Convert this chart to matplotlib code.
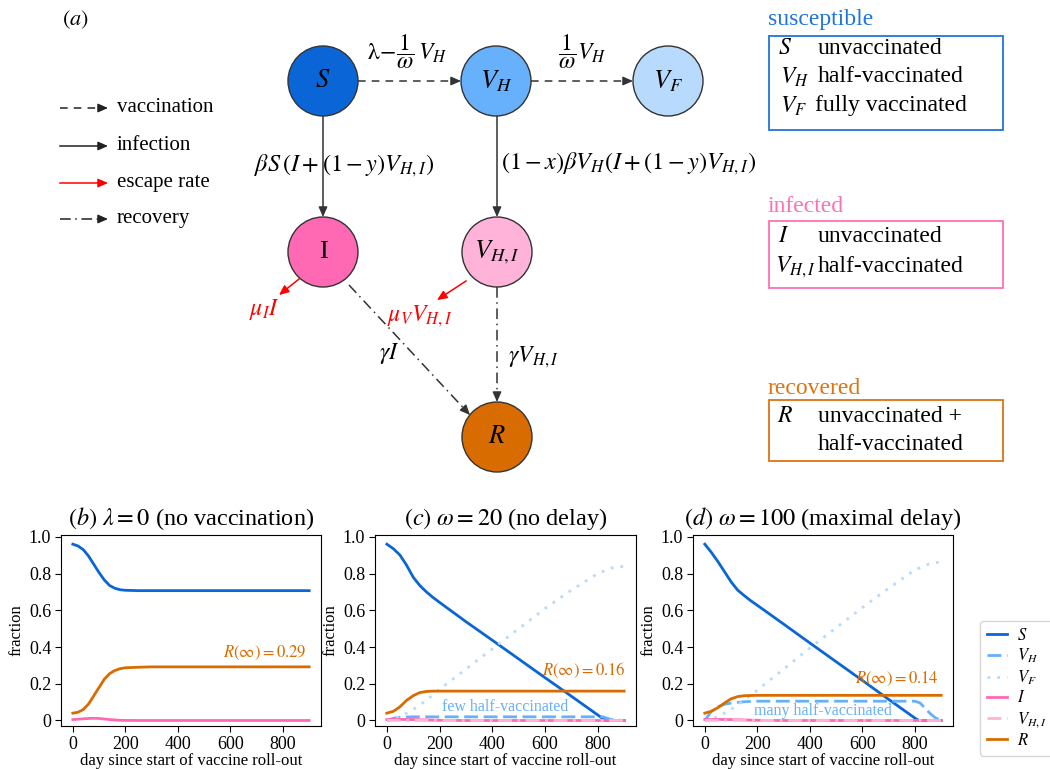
import numpy as np
import matplotlib
matplotlib.use("Agg")
import matplotlib.pyplot as plt
from matplotlib.patches import Circle, Rectangle

plt.rcParams['font.family'] = 'serif'
plt.rcParams['font.serif'] = ['Liberation Serif', 'DejaVu Serif']
plt.rcParams['mathtext.fontset'] = 'stix'

# colours of the compartments
c_S = '#0a66d6'
c_VH = '#66b0fc'
c_VF = '#b7dafd'
c_I = '#ff69b4'
c_VHI = '#ffb3d9'
c_R = '#d96c00'

# ---- panel (b): lambda = 0
days_b = [0, 20, 40, 60, 80, 100, 120, 140, 160, 180, 200, 250, 300, 900]
S_b = [0.96, 0.95, 0.93, 0.895, 0.85, 0.805, 0.765, 0.735, 0.72, 0.712, 0.709, 0.707, 0.707, 0.707]
R_b = [0.04, 0.045, 0.06, 0.09, 0.135, 0.18, 0.225, 0.255, 0.272, 0.282, 0.287, 0.29, 0.292, 0.292]
I_b = [0.005, 0.007, 0.009, 0.011, 0.012, 0.011, 0.008, 0.005, 0.003, 0.001, 0.0005, 0, 0, 0]

# ---- panel (c): omega = 20
days_c_S = [0, 25, 50, 75, 100, 125, 150, 175, 200, 300, 400, 500, 600, 700, 800, 830, 900]
S_c = [0.96, 0.935, 0.90, 0.845, 0.78, 0.735, 0.70, 0.67, 0.643, 0.538, 0.437, 0.335, 0.233, 0.132, 0.03, 0.0, 0.0]
days_c_VH = [0, 25, 50, 100, 200, 400, 600, 820, 850, 900]
VH_c = [0, 0.012, 0.018, 0.02, 0.02, 0.02, 0.02, 0.02, 0.005, 0]
days_c_VF = [0, 50, 100, 150, 200, 300, 400, 500, 600, 700, 800, 850, 900]
VF_c = [0, 0.02, 0.06, 0.11, 0.17, 0.28, 0.39, 0.50, 0.61, 0.71, 0.80, 0.83, 0.84]
days_c_I = [0, 50, 100, 150, 200, 300, 900]
I_c = [0.005, 0.006, 0.005, 0.003, 0.001, 0, 0]
days_c_VHI = [0, 50, 100, 150, 200, 900]
VHI_c = [0, 0.001, 0.001, 0.0005, 0, 0]
days_c_R = [0, 25, 50, 75, 100, 125, 150, 175, 900]
R_c = [0.04, 0.05, 0.075, 0.11, 0.135, 0.152, 0.158, 0.16, 0.16]

# ---- panel (d): omega = 100
days_d_S = [0, 25, 50, 75, 100, 125, 150, 175, 200, 300, 400, 500, 600, 700, 800, 815, 900]
S_d = [0.96, 0.915, 0.865, 0.81, 0.755, 0.71, 0.68, 0.652, 0.627, 0.525, 0.422, 0.32, 0.218, 0.115, 0.013, 0.0, 0.0]
days_d_VH = [0, 25, 50, 75, 100, 150, 200, 400, 600, 800, 820, 840, 860, 880, 900]
VH_d = [0, 0.05, 0.075, 0.088, 0.095, 0.102, 0.105, 0.105, 0.105, 0.105, 0.095, 0.065, 0.035, 0.012, 0.003]
days_d_VF = [0, 50, 100, 150, 200, 300, 400, 500, 600, 700, 800, 850, 900]
VF_d = [0, 0.02, 0.06, 0.11, 0.165, 0.28, 0.395, 0.505, 0.615, 0.72, 0.82, 0.85, 0.865]
days_d_I = [0, 50, 100, 150, 200, 300, 900]
I_d = [0.005, 0.006, 0.005, 0.003, 0.001, 0, 0]
days_d_VHI = [0, 50, 100, 150, 200, 900]
VHI_d = [0, 0.001, 0.002, 0.001, 0.0005, 0]
days_d_R = [0, 25, 50, 75, 100, 125, 150, 200, 900]
R_d = [0.04, 0.05, 0.07, 0.095, 0.118, 0.13, 0.135, 0.137, 0.137]

R_inf = {'b': 0.29, 'c': 0.16, 'd': 0.14}
xticks = [0, 200, 400, 600, 800]
yticks = [0, 0.2, 0.4, 0.6, 0.8, 1.0]
ytick_labels = ['0', '0.2', '0.4', '0.6', '0.8', '1.0']

fig = plt.figure(figsize=(10.5, 7.69), dpi=100)

# ================= (a) diagram, drawn in pixel coordinates
ax = fig.add_axes([0, 0, 1, 1])
ax.set_xlim(0, 1050)
ax.set_ylim(769, 0)
ax.axis('off')

nodes = {
    'S': ((323, 81), c_S, r'$S$'),
    'VH': ((496, 81), c_VH, r'$V_H$'),
    'VF': ((668, 81), c_VF, r'$V_F$'),
    'I': ((323, 252), c_I, 'I'),
    'VHI': ((497, 252), c_VHI, r'$V_{H,I}$'),
    'R': ((497, 437), c_R, r'$R$'),
}
rad = 35
for (xy, col, lab) in nodes.values():
    ax.add_patch(Circle(xy, rad, facecolor=col, edgecolor='#333333', lw=1, zorder=3))
    ax.text(xy[0], xy[1], lab, ha='center', va='center', fontsize=19, zorder=4)


def arrow(p0, p1, ls='-', color='#333333'):
    p0 = np.array(p0, float)
    p1 = np.array(p1, float)
    d = (p1 - p0) / np.hypot(*(p1 - p0))
    base = p1 - 8 * d
    ax.plot([p0[0], base[0]], [p0[1], base[1]], ls=ls, color=color, lw=1.1, zorder=2)
    ax.annotate('', xy=p1, xytext=base,
                arrowprops=dict(arrowstyle='-|>,head_length=0.5,head_width=0.22',
                                color=color, lw=1, shrinkA=0, shrinkB=0,
                                mutation_scale=12), zorder=2)


dash = (0, (5, 4))
dashdot = (0, (7, 3, 1, 3))

arrow((358, 81), (461, 81), ls=dash)
arrow((531, 81), (633, 81), ls=dash)
arrow((323, 116), (323, 217))
arrow((497, 116), (497, 217))
arrow((299, 279), (279, 295), color='red')
arrow((466, 281), (437, 300), color='red')
arrow((349, 285), (470, 415), ls=dashdot)
arrow((497, 287), (497, 402), ls=dashdot)

ax.text(407, 52, r'$\mathrm{\lambda}\!-\!\dfrac{1}{\omega}\,V_H$', ha='center', va='center', fontsize=17)
ax.text(582, 52, r'$\dfrac{1}{\omega}V_H$', ha='center', va='center', fontsize=17)
ax.text(254, 166, r'$\beta S\,(I + (1-y)V_{H,I})$', ha='left', va='center', fontsize=17.5)
ax.text(501, 164, r'$(1-x)\beta V_H(I + (1-y)V_{H,I})$', ha='left', va='center', fontsize=17.5)
ax.text(249, 310, r'$\mu_I I$', ha='left', va='center', fontsize=17, color='red')
ax.text(387, 316, r'$\mu_V V_{H,I}$', ha='left', va='center', fontsize=17, color='red')
ax.text(379, 354, r'$\gamma I$', ha='left', va='center', fontsize=17)
ax.text(508, 357, r'$\gamma V_{H,I}$', ha='left', va='center', fontsize=17)

ax.text(62, 20, r'$(a)$', ha='left', va='center', fontsize=16)

# arrow legend on the left
leg_items = [('vaccination', dash, '#222222', 108),
             ('infection', '-', '#222222', 146),
             ('escape rate', '-', 'red', 183),
             ('recovery', dashdot, '#222222', 219)]
for lab, ls, col, yy in leg_items:
    arrow((60, yy), (108, yy), ls=ls, color=col)
    ax.text(117, yy, lab, ha='left', va='center', fontsize=15)

# compartment boxes on the right
c_box_S = '#1f75d9'
c_box_I = '#ff6fb5'
c_box_R = '#dd7412'
ax.text(768, 20, 'susceptible', color=c_box_S, fontsize=17, ha='left', va='center')
ax.add_patch(Rectangle((769, 36), 234, 94, fill=False, edgecolor=c_box_S, lw=1.3))
ax.text(778, 48, r'$S$', fontsize=17, va='center')
ax.text(818, 48, 'unvaccinated', fontsize=17, va='center')
ax.text(780, 77, r'$V_H$', fontsize=17, va='center')
ax.text(818, 77, 'half-vaccinated', fontsize=17, va='center')
ax.text(780, 106, r'$V_F$', fontsize=17, va='center')
ax.text(815, 106, 'fully vaccinated', fontsize=17, va='center')

ax.text(768, 206, 'infected', color=c_box_I, fontsize=17, ha='left', va='center')
ax.add_patch(Rectangle((769, 221), 234, 67, fill=False, edgecolor=c_box_I, lw=1.3))
ax.text(778, 237, r'$I$', fontsize=17, va='center')
ax.text(818, 237, 'unvaccinated', fontsize=17, va='center')
ax.text(775, 267, r'$V_{H,I}$', fontsize=17, va='center')
ax.text(818, 267, 'half-vaccinated', fontsize=17, va='center')

ax.text(768, 388, 'recovered', color=c_box_R, fontsize=17, ha='left', va='center')
ax.add_patch(Rectangle((769, 400), 234, 61, fill=False, edgecolor=c_box_R, lw=1.3))
ax.text(777, 416, r'$R$', fontsize=17, va='center')
ax.text(818, 416, 'unvaccinated +', fontsize=17, va='center')
ax.text(818, 444, 'half-vaccinated', fontsize=17, va='center')

# ================= (b)-(d) time courses
W, H = 1050, 769
def panel(x0, x1):
    return fig.add_axes([x0 / W, 1 - 726 / H, (x1 - x0) / W, (726 - 535) / H])

axb = panel(61, 321)
axc = panel(375, 636)
axd = panel(693, 953)

lw = 2
axb.plot(days_b, S_b, color=c_S, lw=lw)
axb.plot(days_b, I_b, color=c_I, lw=lw)
axb.plot(days_b, R_b, color=c_R, lw=lw)

handles = []
for a, dS, S, dVH, VH, dVF, VF, dI, I, dVHI, VHI, dR, R in [
        (axc, days_c_S, S_c, days_c_VH, VH_c, days_c_VF, VF_c, days_c_I, I_c, days_c_VHI, VHI_c, days_c_R, R_c),
        (axd, days_d_S, S_d, days_d_VH, VH_d, days_d_VF, VF_d, days_d_I, I_d, days_d_VHI, VHI_d, days_d_R, R_d)]:
    h1, = a.plot(dS, S, color=c_S, lw=lw, label=r'$S$')
    h2, = a.plot(dVH, VH, color=c_VH, lw=lw, ls=(0, (5, 2)), label=r'$V_H$')
    h3, = a.plot(dVF, VF, color=c_VF, lw=lw, ls=(0, (1, 2.5)), label=r'$V_F$')
    h4, = a.plot(dI, I, color=c_I, lw=lw, label=r'$I$')
    h5, = a.plot(dVHI, VHI, color=c_VHI, lw=lw, ls=(0, (5, 2, 1, 2)), label=r'$V_{H,I}$')
    h6, = a.plot(dR, R, color=c_R, lw=lw, label=r'$R$')
    handles = [h1, h2, h3, h4, h5, h6]

axb.text(890, R_b[-1] + 0.075, r'$R(\infty) = %.2f$' % R_inf['b'], color=c_R, fontsize=12, ha='right', va='center')
axc.text(905, R_c[-1] + 0.11, r'$R(\infty) = %.2f$' % R_inf['c'], color=c_R, fontsize=12, ha='right', va='center')
axd.text(890, R_d[-1] + 0.09, r'$R(\infty) = %.2f$' % R_inf['d'], color=c_R, fontsize=12, ha='right', va='center')
axc.text(450, 0.075, 'few half-vaccinated', color=c_VH, fontsize=11.5, ha='center', va='center')
axd.text(450, 0.05, 'many half-vaccinated', color=c_VH, fontsize=11.5, ha='center', va='center')

titles = [r'$(b)\ \lambda = 0$ (no vaccination)',
          r'$(c)\ \omega = 20$ (no delay)',
          r'$(d)\ \omega = 100$ (maximal delay)']
for a, t in zip([axb, axc, axd], titles):
    a.set_xlim(-45, 945)
    a.set_ylim(-0.03, 1.01)
    a.set_xticks(xticks)
    a.set_yticks(yticks)
    a.set_yticklabels(ytick_labels)
    a.tick_params(labelsize=13, length=4, pad=3)
    a.set_xlabel('day since start of vaccine roll-out', fontsize=12, labelpad=0)
    a.set_ylabel('fraction', fontsize=12, labelpad=3)
    a.set_title(t, fontsize=17.5, pad=7)

fig.legend(handles, [h.get_label() for h in handles], loc='upper left',
           bbox_to_anchor=(980 / W, 1 - 621 / H), borderaxespad=0, fontsize=12,
           handlelength=1.2, handletextpad=0.6, labelspacing=0.2, borderpad=0.4)

fig.savefig('out.png', dpi=100)
